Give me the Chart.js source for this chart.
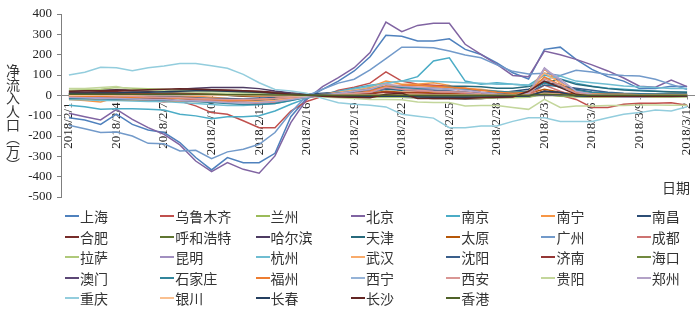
<!DOCTYPE html>
<html><head><meta charset="utf-8">
<script src="https://cdn.jsdelivr.net/npm/chart.js@4/dist/chart.umd.min.js"></script>
<style>
html,body{margin:0;padding:0;background:#fff;}
#wrap{position:relative;width:700px;height:311px;overflow:hidden;}
canvas{display:block;}
#legend{position:absolute;left:65px;top:206px;width:640px;display:grid;grid-template-columns:repeat(7,95.3px);grid-auto-rows:20.5px;font-family:"Noto Sans CJK SC";font-size:14px;color:#333;}
.item{display:flex;align-items:center;white-space:nowrap;line-height:20px;}
.sw{width:14px;height:2px;margin-right:1px;flex:none;}
</style></head>
<body>
<div id="wrap"><canvas id="c" width="700" height="311"></canvas><div id="legend"></div></div>
<script>
const categories = ['2018/2/1','2018/2/2','2018/2/3','2018/2/4','2018/2/5','2018/2/6','2018/2/7','2018/2/8','2018/2/9','2018/2/10',
 '2018/2/11','2018/2/12','2018/2/13','2018/2/14','2018/2/15','2018/2/16','2018/2/17','2018/2/18','2018/2/19','2018/2/20',
 '2018/2/21','2018/2/22','2018/2/23','2018/2/24','2018/2/25','2018/2/26','2018/2/27','2018/2/28','2018/3/1','2018/3/2',
 '2018/3/3','2018/3/4','2018/3/5','2018/3/6','2018/3/7','2018/3/8','2018/3/9','2018/3/10','2018/3/11','2018/3/12'];
const tickLabels = ['2018/2/1','2018/2/4','2018/2/7','2018/2/10','2018/2/13','2018/2/16','2018/2/19','2018/2/22','2018/2/25','2018/2/28','2018/3/3','2018/3/6','2018/3/9','2018/3/12'];
const yTitle = '净流入人口（万）';
const xTitle = '日期';

const shanghai = [-110,-121,-143,-93,-143,-170,-183,-232,-306,-367, -306,-331,-331,-285,-105,-15,29,70,120,190, 295,291,267,267,278,226,201,160,111,80, 226,237,177,128,92,70,33,33,45,43];
const wulumuqi = [-10,-8,-12,-10,-12,-15,-16,-28,-52,-85, -93,-125,-159,-159,-77,-30,-5,25,40,60, 115,70,55,50,45,35,15,5,0,-5, 20,0,-20,-60,-60,-44,-39,-39,-36,-49];
const lanzhou = [5,5,8,10,12,10,8,8,5,5, 3,2,0,0,0,0,-2,-3,-5,-5, -3,-5,-8,-8,-10,-10,-8,-8,-8,-5, 15,0,-5,-5,-5,-5,-5,-5,-5,-5];
const beijing = [-88,-105,-121,-69,-118,-159,-192,-244,-323,-375, -331,-364,-383,-298,-134,-20,43,87,136,210, 360,313,344,354,354,251,201,152,98,92, 218,200,177,150,120,85,45,40,75,43];
const nanjing = [-49,-56,-69,-66,-66,-69,-72,-93,-101,-115, -105,-105,-100,-77,-44,-15,5,20,35,50, 60,70,92,169,185,70,54,62,54,50, 100,80,60,45,35,30,25,20,15,15];
const nanning = [-20,-25,-33,-11,-12,-10,-8,-5,-5,-10, -15,-25,-30,-25,-15,-5,0,10,20,40, 70,54,54,62,49,5,0,5,10,20, 128,60,20,5,0,0,5,5,10,10];
const nanchang = [10,12,15,12,10,8,10,12,10,5, 0,-5,-8,-5,0,5,10,15,20,25, 40,30,25,20,20,15,10,10,20,30, 60,55,30,15,10,5,5,5,5,5];
const hefei = [15,15,18,20,22,20,25,28,30,28, 25,22,20,15,10,5,0,-5,-10,-10, -5,0,-5,-10,-10,-15,-15,-10,-5,0, 20,10,0,-5,-5,-5,-5,-5,0,0];
const huhehaote = [5,5,8,10,8,8,10,10,8,5, 5,5,3,2,0,0,-2,-3,-5,-5, 0,5,3,0,0,-2,-3,-2,0,2, 15,8,2,0,0,0,0,0,0,0];
const haerbin = [20,22,25,28,25,22,25,30,35,38, 38,38,33,21,11,5,0,-5,-8,-10, -5,-10,-12,-15,-15,-18,-15,-12,-10,-8, 10,5,-5,-8,-8,-10,-10,-8,-8,-5];
const tianjin = [-5,-5,-8,-10,-12,-10,-12,-15,-20,-25, -28,-30,-25,-20,-10,-5,0,5,10,15, 30,25,35,40,45,45,42,35,35,43, 62,79,54,43,33,26,22,20,18,15];
const taiyuan = [5,5,5,8,5,3,3,5,5,3, 0,-3,-5,-5,-3,0,3,5,8,10, 20,15,15,12,10,5,3,3,5,10, 30,15,5,2,2,0,0,0,0,0];
const guangzhou = [-147,-164,-183,-180,-200,-236,-238,-274,-270,-311, -278,-265,-241,-183,-85,-3,30,60,79,125, 180,237,237,234,218,198,185,150,118,105, 108,98,123,115,103,98,95,79,54,29];
const chengdu = [-15,-18,-20,-22,-20,-25,-33,-25,-20,-25, -30,-35,-40,-35,-20,-10,-5,5,15,25, 45,30,20,20,15,10,5,0,-5,0, 50,20,-5,-10,-10,-10,-8,-8,-5,-5];
const lasa = [25,28,30,38,35,32,30,25,22,20, 18,15,12,10,5,2,0,-2,-5,-8, -10,-10,-12,-15,-15,-15,-15,-12,-12,-10, 5,-5,-8,-8,-8,-8,-8,-8,-8,-8];
const kunming = [-10,-8,-10,-12,-10,-8,-10,-12,-15,-20, -25,-30,-30,-25,-15,-5,0,5,10,15, 35,40,30,25,20,15,5,0,-5,0, 135,70,10,0,-5,-8,-8,-5,-5,-5];
const hangzhou = [-20,-22,-25,-25,-28,-30,-30,-35,-40,-45, -50,-50,-45,-40,-25,-10,0,15,30,45, 60,70,70,68,65,62,60,55,54,49, 79,95,70,62,54,46,42,38,33,33];
const wuhan = [-15,-15,-18,-20,-22,-20,-25,-28,-30,-30, -35,-35,-30,-25,-15,-5,5,15,25,35, 55,45,40,40,38,35,30,20,15,20, 110,60,20,10,5,5,5,5,5,5];
const shenyang = [5,5,3,0,-3,-5,-8,-10,-12,-15, -15,-18,-15,-10,-5,0,5,10,15,20, 35,30,25,25,20,15,10,8,10,15, 50,45,35,25,15,10,8,5,5,5];
const jinan = [8,8,10,12,10,8,8,10,10,8, 5,3,0,-3,-5,-3,0,3,5,8, 15,12,10,8,5,3,0,-3,-5,-2, 20,10,0,-3,-3,-3,-2,-2,-2,-2];
const haikou = [-5,-5,-3,-3,-2,0,0,0,2,3, 5,5,5,3,2,0,0,0,-2,-2, -3,-5,-5,-5,-5,-5,-3,-3,-2,-2, 0,-2,-2,-2,-2,-2,0,0,0,0];
const aomen = [0,0,0,1,1,1,1,1,1,1, 0,0,0,0,0,0,0,0,0,0, -1,-1,-1,-1,-1,-1,-1,0,0,0, 1,0,0,0,0,0,0,0,0,0];
const shijiazhuang = [-15,-15,-18,-20,-20,-22,-25,-25,-30,-35, -40,-45,-45,-40,-25,-10,0,10,20,30, 45,40,35,35,30,30,25,20,15,20, 60,40,25,15,10,8,5,5,5,5];
const fuzhou = [-5,-5,-5,-8,-10,-10,-12,-15,-15,-20, -25,-25,-20,-15,-10,-5,0,5,10,20, 45,50,48,45,40,35,25,15,10,15, 90,50,15,5,5,5,3,3,3,3];
const xining = [2,2,3,3,3,3,3,2,2,0, 0,0,0,-2,-2,-2,0,0,0,0, 2,2,2,2,2,2,0,0,0,0, 5,3,0,0,0,0,0,0,0,0];
const xian = [5,5,3,-3,-5,-8,-10,-12,-15,-18, -20,-20,-18,-15,-10,-5,0,5,10,15, 40,30,25,20,18,15,8,5,0,5, 80,50,10,0,-5,-5,-5,-5,-5,-5];
const guiyang = [33,33,38,43,29,26,22,18,15,12, 10,8,5,3,0,-3,-8,-12,-15,-20, -20,-22,-33,-35,-35,-52,-50,-50,-60,-69, -20,-60,-52,-52,-50,-50,-48,-47,-49,-49];
const zhengzhou = [-10,-12,-15,-15,-18,-20,-22,-25,-28,-30, -35,-38,-35,-30,-20,-10,0,10,20,30, 55,45,40,35,30,25,15,5,0,10, 130,80,20,5,0,-5,-5,-5,-5,-5];
const chongqing = [100,114,138,136,121,136,144,156,156,145, 133,103,62,29,21,10,-15,-36,-44,-49, -57,-93,-103,-112,-159,-159,-151,-151,-128,-110, -110,-129,-129,-129,-110,-93,-85,-72,-77,-56];
const yinchuan = [0,0,2,2,2,3,3,3,2,2, 0,0,-2,-2,-2,0,0,0,2,2, 5,5,5,3,3,3,2,2,2,2, 10,5,2,0,0,0,0,0,0,0];
const changchun = [10,10,12,12,15,15,18,20,22,22, 20,18,15,10,5,2,0,-3,-5,-5, -3,-5,-8,-10,-10,-10,-10,-8,-5,-3, 20,15,-3,-5,-5,-5,-5,-3,-3,-3];
const changsha = [20,22,22,25,25,28,30,32,30,28, 25,22,18,12,5,0,-5,-8,-10,-12, 5,10,-15,-15,-15,-15,-12,-10,-8,20, 70,38,5,-5,-5,-5,-5,-5,-5,-3];
const xianggang = [5,5,5,5,5,5,5,5,5,5, 3,3,3,2,2,0,0,0,0,0, 0,0,0,0,0,0,0,0,0,0, 5,3,0,0,0,0,0,0,0,0];

const cities = ['上海','乌鲁木齐','兰州','北京','南京','南宁','南昌','合肥','呼和浩特','哈尔滨','天津','太原','广州','成都','拉萨','昆明','杭州','武汉','沈阳','济南','海口','澳门','石家庄','福州','西宁','西安','贵阳','郑州','重庆','银川','长春','长沙','香港'];
const series = [shanghai,wulumuqi,lanzhou,beijing,nanjing,nanning,nanchang,hefei,huhehaote,haerbin,tianjin,taiyuan,guangzhou,chengdu,lasa,kunming,hangzhou,wuhan,shenyang,jinan,haikou,aomen,shijiazhuang,fuzhou,xining,xian,guiyang,zhengzhou,chongqing,yinchuan,changchun,changsha,xianggang];
const colors = ['#4F81BD','#C0504D','#9BBB59','#8064A2','#4BACC6','#F79646','#2C4D75','#772C2A','#5F7530','#4D3B62','#276A7C','#B65708','#729ACA','#CD7371','#AFC97A','#A18FC0','#6FBDD1','#F9AB6B','#3A5F8B','#953735','#71893F','#5C4776','#31859C','#ED7D31','#95B3D7','#D99694','#C3D69B','#B3A2C7','#93CDDD','#FAC090','#243F60','#632523','#4F6228'];

const decor = {
  id: 'decor',
  beforeDatasetsDraw(chart) {
    const {ctx, scales: {x, y}} = chart;
    const y0 = Math.round(y.getPixelForValue(0)) + 0.5;
    ctx.save();
    ctx.strokeStyle = '#898989';
    ctx.lineWidth = 1;
    ctx.beginPath(); ctx.moveTo(x.left, y0); ctx.lineTo(x.right, y0); ctx.stroke();
    ctx.fillStyle = '#222';
    ctx.font = '13px "Liberation Serif"';
    categories.forEach((c, i) => {
      if (!tickLabels.includes(c)) return;
      const px = x.getPixelForValue(i);
      ctx.beginPath(); ctx.moveTo(Math.round(px) + 0.5, y0); ctx.lineTo(Math.round(px) + 0.5, y0 + 4); ctx.stroke();
      ctx.save();
      ctx.translate(px, y0 + 7);
      ctx.rotate(-Math.PI / 2);
      ctx.textAlign = 'right';
      ctx.textBaseline = 'middle';
      ctx.fillText(c, 0, 0);
      ctx.restore();
    });
    ctx.restore();
  },
  afterDraw(chart) {
    const ctx = chart.ctx;
    ctx.save();
    ctx.fillStyle = '#333';
    ctx.font = '14px "Noto Sans CJK SC"';
    ctx.textAlign = 'center';
    ctx.textBaseline = 'middle';
    const chars = Array.from(yTitle).map(ch => ch === '（' ? '︵' : ch === '）' ? '︶' : ch);
    chars.forEach((ch, i) => ctx.fillText(ch, 13, 71 + i * 13.4));
    ctx.fillText(xTitle, 676, 188);
    ctx.restore();
  }
};

new Chart(document.getElementById('c'), {
  type: 'line',
  data: {
    labels: categories,
    datasets: cities.map((name, i) => ({
      label: name, data: series[i], borderColor: colors[i], backgroundColor: colors[i],
      borderWidth: 1.5, pointRadius: 0, tension: 0, order: -i
    }))
  },
  options: {
    responsive: false, animation: false,
    layout: {padding: {top: 14, right: 5, bottom: 114, left: 0}},
    plugins: {legend: {display: false}, tooltip: {enabled: false}},
    scales: {
      x: {type: 'category', offset: true, display: false},
      y: {
        min: -500, max: 400,
        afterFit(s) { s.width = 61; },
        ticks: {stepSize: 100, padding: 5, color: '#222', font: {family: 'Liberation Serif', size: 13}},
        grid: {drawOnChartArea: false, drawTicks: true, tickLength: 4, color: '#7f7f7f'},
        border: {display: true, color: '#7f7f7f', width: 1}
      }
    }
  },
  plugins: [decor]
});

const lg = document.getElementById('legend');
cities.forEach((name, i) => {
  const d = document.createElement('div');
  d.className = 'item';
  d.innerHTML = '<span class="sw" style="background:' + colors[i] + '"></span><span>' + name + '</span>';
  lg.appendChild(d);
});
</script>
</body></html>
